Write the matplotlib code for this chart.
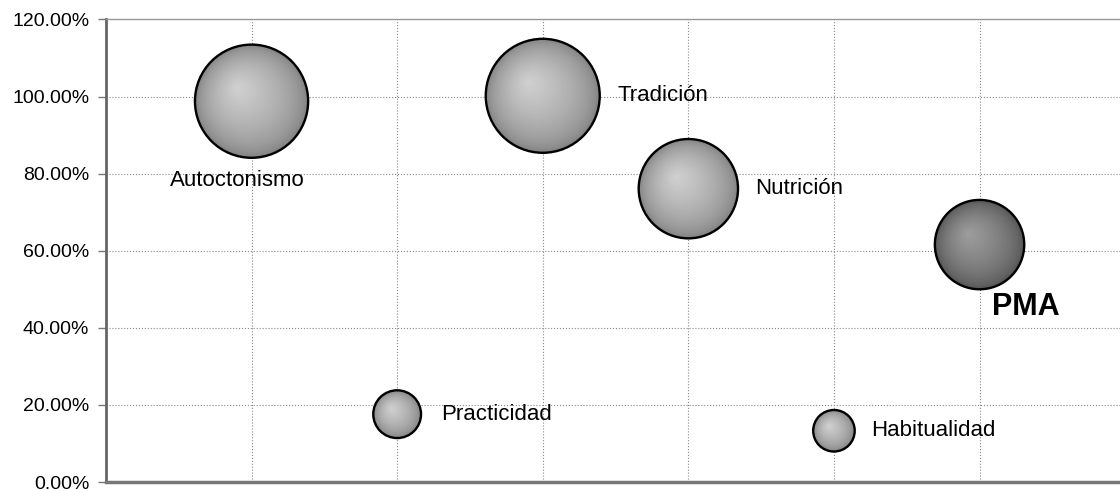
import matplotlib
matplotlib.use("Agg")
import matplotlib.pyplot as plt
import matplotlib.transforms as mtransforms
import numpy as np

plt.rcParams['font.family'] = ['Liberation Sans', 'DejaVu Sans']

# Datos
categorias = ["Autoctonismo", "Practicidad", "Tradición", "Nutrición", "Habitualidad", "PMA"]
posicion_x = [1, 2, 3, 4, 5, 6]
valores = [0.988, 0.176, 1.002, 0.761, 0.133, 0.616]
tamanos = [0.988, 0.176, 1.002, 0.761, 0.133, 0.616]

# Colores de las burbujas (borde exterior, brillo)
colores = [(0.50, 0.82)] * 5 + [(0.32, 0.62)]

# Desplazamiento de cada etiqueta en puntos y alineación
etiquetas_pos = {
    "Autoctonismo": ((-10, -57), 'center'),
    "Practicidad": ((32, 0), 'left'),
    "Tradición": ((54, 0), 'left'),
    "Nutrición": ((48, 0), 'left'),
    "Habitualidad": ((27, 0), 'left'),
    "PMA": ((9, -45), 'left'),
}

fig = plt.figure(figsize=(11.2, 4.91), dpi=100)
ax = fig.add_axes([0.0946, 0.0183, 0.91, 0.942])

ax.set_xlim(0, 7)
ax.set_ylim(0, 1.2)

diam_max = 2 * 57 * 0.72  # diámetro en puntos de la burbuja más grande
n_capas = 40

for i, cat in enumerate(categorias):
    x, y = posicion_x[i], valores[i]
    d = diam_max * np.sqrt(tamanos[i] / max(tamanos))
    r = d / 2
    borde, brillo = colores[i]
    # sombreado tipo esfera: círculos concéntricos hacia el punto de brillo
    for k in range(n_capas):
        t = k / n_capas
        off = mtransforms.offset_copy(ax.transData, fig=fig,
                                      x=-0.25 * r * t, y=0.25 * r * t, units='points')
        c = borde + (brillo - borde) * t ** 0.6
        ax.scatter([x], [y], s=(d * (1 - t)) ** 2, color=str(c),
                   edgecolors='none', transform=off, zorder=3 + k * 0.01)
    ax.scatter([x], [y], s=d ** 2, facecolors='none', edgecolors='black',
               linewidths=1.7, zorder=4)

    (dx, dy), ha = etiquetas_pos[cat]
    if cat == "PMA":
        ax.annotate(cat, (x, y), xytext=(dx, dy), textcoords='offset points',
                    ha=ha, va='center', fontsize=22, fontweight='bold', zorder=5)
    else:
        ax.annotate(cat, (x, y), xytext=(dx, dy), textcoords='offset points',
                    ha=ha, va='center', fontsize=16, zorder=5)

ax.set_xticks(posicion_x)
ax.set_xticklabels([])
ax.set_yticks(np.arange(0, 1.21, 0.2))
ax.set_yticklabels([f"{v * 100:.2f}%" for v in np.arange(0, 1.21, 0.2)], fontsize=14)
ax.tick_params(axis='x', length=0)
ax.tick_params(axis='y', length=6, color='#777777', width=1, pad=6)

ax.grid(True, color='#888888', linestyle=':', linewidth=0.8, zorder=1)
ax.set_axisbelow(True)

ax.spines['left'].set_color('#666666')
ax.spines['left'].set_linewidth(2)
ax.spines['bottom'].set_color('#777777')
ax.spines['bottom'].set_linewidth(2.5)
ax.spines['top'].set_color('#999999')
ax.spines['top'].set_linewidth(1)
ax.spines['right'].set_visible(False)

fig.savefig("out.png", dpi=100)
